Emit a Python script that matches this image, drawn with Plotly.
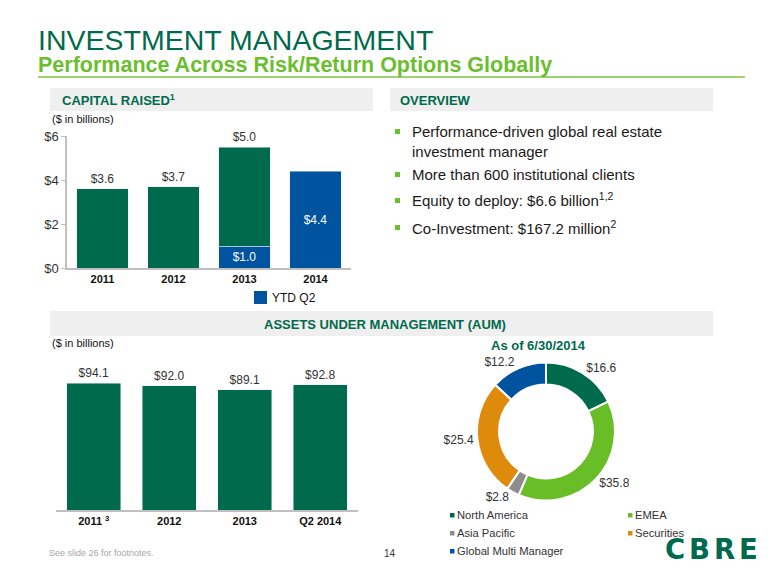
import plotly.graph_objects as go

W, H = 780, 585
OX, OY = 8, 8  # page body offset of the rendered figure

# ---------------- data ----------------
capital_years = ["2011", "2012", "2013", "2014"]
capital_full_year = [3.6, 3.7, 4.5, None]      # green segments
capital_ytd_q2 = [None, None, 1.0, 4.4]         # blue segments
capital_labels = ["$3.6", "$3.7", "$5.0", ""]   # labels printed above green bars
capital_ticks = [0, 2, 4, 6]
capital_tick_text = ["$0", "$2", "$4", "$6"]

aum_periods = ["2011", "2012", "2013", "Q2 2014"]
aum_tick_text = ["2011 <sup>3</sup>", "2012", "2013", "Q2 2014"]
aum_values = [94.1, 92.0, 89.1, 92.8]

pie_labels = ["North America", "EMEA", "Asia Pacific", "Securities", "Global Multi Manager"]
pie_values = [16.6, 35.8, 2.8, 25.4, 12.2]

overview_lines = [
    "Performance-driven global real estate<br>investment manager",
    "More than 600 institutional clients",
    "Equity to deploy: $6.6 billion<sup>1,2</sup>",
    "Co-Investment: $167.2 million<sup>2</sup>",
]

# ---------------- style ----------------
DARK_GREEN = "#006A4D"
LIGHT_GREEN = "#69BE28"
BLUE = "#00549F"
GRAY = "#8C8C8C"
ORANGE = "#DE8A0B"
PIE_COLORS = [DARK_GREEN, LIGHT_GREEN, GRAY, ORANGE, BLUE]
FONT = "Liberation Sans, Arial, sans-serif"


def px(x):
    return (x - OX) / W


def py(y):
    return 1 - (y - OY) / H


fig = go.Figure()

# Capital raised (stacked)
fig.add_trace(go.Bar(
    x=capital_years, y=capital_ytd_q2, name="YTD Q2", marker_color=BLUE,
    text=[f"${v:.1f}" if v else "" for v in capital_ytd_q2],
    textposition="inside", insidetextanchor="middle",
    textfont=dict(color="white", size=12, family=FONT),
    xaxis="x", yaxis="y",
))
fig.add_trace(go.Bar(
    x=capital_years, y=capital_full_year, name="Full year", marker_color=DARK_GREEN,
    text=capital_labels, textposition="outside", cliponaxis=False,
    textfont=dict(color="#333333", size=12, family=FONT),
    xaxis="x", yaxis="y",
))

# AUM bars
fig.add_trace(go.Bar(
    x=aum_periods, y=aum_values, marker_color=DARK_GREEN, name="AUM",
    texttemplate="$%{y:.1f}", textposition="outside", cliponaxis=False,
    textfont=dict(color="#333333", size=12, family=FONT),
    xaxis="x2", yaxis="y2",
))

# AUM donut
fig.add_trace(go.Pie(
    labels=pie_labels, values=pie_values, sort=False, direction="clockwise",
    hole=0.68,
    marker=dict(colors=PIE_COLORS, line=dict(color="white", width=2)),
    texttemplate="$%{value:.1f}", textposition="outside",
    outsidetextfont=dict(color="#333333", size=12, family=FONT),
    domain=dict(x=[px(477), px(615)], y=[py(502), py(361)]),
))

axis_line = "#BFBFBF"
fig.update_layout(
    width=W, height=H, margin=dict(l=0, r=0, t=0, b=0, autoexpand=False),
    paper_bgcolor="white", plot_bgcolor="white", showlegend=False,
    font=dict(family=FONT, color="#333333"),
    barmode="stack", bargap=0.28,
    xaxis=dict(domain=[px(67), px(351)], showline=True, linecolor=axis_line, linewidth=1.5,
               tickfont=dict(size=11, color="#111111", weight="bold"), ticks=""),
    yaxis=dict(domain=[py(268), py(136)], range=[0, 6], tickmode="array",
               tickvals=capital_ticks, ticktext=capital_tick_text,
               showgrid=False, zeroline=False, showline=True,
               linecolor=axis_line, linewidth=1.5, ticks="outside", ticklen=4,
               tickcolor=axis_line, tickfont=dict(size=13, color="#333333")),
    xaxis2=dict(domain=[px(56), px(358)], anchor="y2", showline=True, linecolor=axis_line,
                linewidth=2, tickmode="array", tickvals=aum_periods, ticktext=aum_tick_text,
                tickfont=dict(size=11, color="#111111", weight="bold"), ticks=""),
    yaxis2=dict(domain=[py(510), py(375.1)], anchor="x2", range=[0, 100], visible=False),
)

shapes = []
# header boxes
for x0, x1, y0, y1 in [(50, 373, 88, 111), (390, 713, 88, 111), (50, 713, 311, 336)]:
    shapes.append(dict(type="rect", xref="paper", yref="paper", x0=px(x0), x1=px(x1),
                       y0=py(y1), y1=py(y0), fillcolor="#EFEFEF", line=dict(width=0),
                       layer="below"))
# title rule
shapes.append(dict(type="line", xref="paper", yref="paper", x0=px(38), x1=px(745),
                   y0=py(77), y1=py(77), line=dict(color="#7DC242", width=1.5)))
# overview bullets
for yb in [131, 174, 200, 227]:
    shapes.append(dict(type="rect", xref="paper", yref="paper", x0=px(395), x1=px(400),
                       y0=py(yb + 3), y1=py(yb - 2), fillcolor="#6BBE2D", line=dict(width=0)))
# legend swatch for YTD Q2
shapes.append(dict(type="rect", xref="paper", yref="paper", x0=px(254), x1=px(267),
                   y0=py(304), y1=py(291), fillcolor=BLUE, line=dict(width=0)))
# donut legend swatches
legend_pos = [(450, 515), (628, 515), (450, 533), (628, 533), (450, 551)]
for (lx, ly), col in zip(legend_pos, PIE_COLORS):
    shapes.append(dict(type="rect", xref="paper", yref="paper", x0=px(lx), x1=px(lx + 4.5),
                       y0=py(ly + 2.5), y1=py(ly - 2), fillcolor=col, line=dict(width=0)))
fig.update_layout(shapes=shapes)


def note(text, x, y, size, color="#333333", bold=False, xanchor="left", yanchor="middle",
         family=FONT):
    fig.add_annotation(text=f"<b>{text}</b>" if bold else text, x=px(x), y=py(y),
                       xref="paper", yref="paper", showarrow=False,
                       xanchor=xanchor, yanchor=yanchor, align="left",
                       font=dict(size=size, color=color, family=family))


note("INVESTMENT MANAGEMENT", 36, 40, 28.5, DARK_GREEN)
note("Performance Across Risk/Return Options Globally", 36, 65, 21.5, "#6BBE2D", bold=True)
note("CAPITAL RAISED<sup>1</sup>", 60, 100, 13, DARK_GREEN, bold=True)
note("OVERVIEW", 398, 100, 13, DARK_GREEN, bold=True)
note("ASSETS UNDER MANAGEMENT (AUM)", 385, 324, 13, DARK_GREEN, bold=True, xanchor="center")
note("($ in billions)", 50, 119, 11, "#111111")
note("($ in billions)", 50, 343, 11, "#111111")
note("As of 6/30/2014", 538, 346, 13, DARK_GREEN, bold=True, xanchor="center")
note("YTD Q2", 270, 298, 12, "#111111")

for (lx, ly), lab in zip(legend_pos, pie_labels):
    note(lab, lx + 5, ly, 11.2, "#333333")

fig.add_annotation(text=overview_lines[0], x=px(410), y=py(121),
                   xref="paper", yref="paper", showarrow=False, xanchor="left",
                   yanchor="top", align="left",
                   font=dict(size=15, color="#1a1a1a", family=FONT))
for txt, yv in zip(overview_lines[1:], [174, 200, 227]):
    note(txt, 410, yv, 15, "#1a1a1a")

note("See slide 26 for footnotes.", 47, 553, 9, "#A6A6A6")
note("14", 390, 553, 10, "#333333", xanchor="center")

# CBRE wordmark (wide, heavy letters)
for letter, cx in zip("CBRE", [675, 699.5, 724, 748]):
    note(letter, cx, 549, 27.5, DARK_GREEN, bold=True, xanchor="center",
         family="DejaVu Sans, Liberation Sans, sans-serif")

fig.write_html("out.html")
